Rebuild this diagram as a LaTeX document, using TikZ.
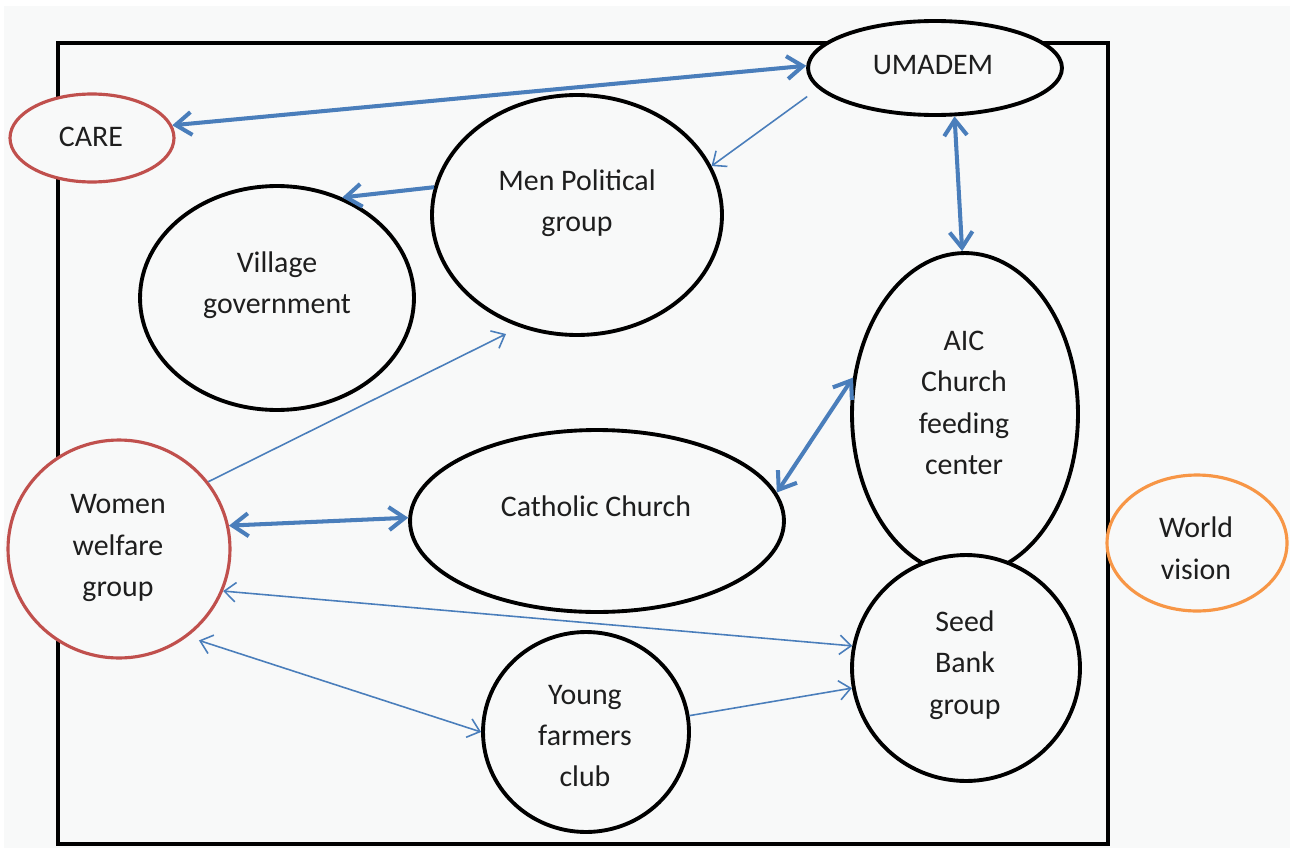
\documentclass[tikz,border=0pt]{standalone}
\usepackage{fontspec}
\setmainfont{Carlito}
\usetikzlibrary{shapes.geometric,arrows.meta,calc}
\definecolor{bg}{RGB}{248,249,249}
\definecolor{arr}{RGB}{74,126,187}
\definecolor{rd}{RGB}{192,80,77}
\definecolor{org}{RGB}{247,150,70}
\definecolor{ink}{RGB}{30,30,30}
\tikzset{
  ell/.style={ellipse, draw=black, line width=2.2pt, fill=bg, inner sep=0pt},
  redell/.style={ell, draw=rd, line width=1.8pt},
  orgell/.style={ell, draw=org, line width=1.8pt},
  txt/.style={font=\fontsize{17}{23.6}\selectfont, text=ink, align=center, inner sep=0pt},
  boldtip/.tip={Straight Barb[length=9pt,width=13pt]},
  thintip/.tip={Straight Barb[length=6.5pt,width=11pt]},
  boldtwo/.style={draw=arr, line width=2.3pt, {boldtip}-{boldtip}},
  boldone/.style={draw=arr, line width=2.3pt, -{boldtip}},
  thintwo/.style={draw=arr, line width=0.9pt, {thintip}-{thintip}},
  thinone/.style={draw=arr, line width=0.9pt, -{thintip}},
}
\begin{document}
\begin{tikzpicture}[x=0.02cm, y=-0.02cm]
\useasboundingbox (0,0) rectangle (1290,848);
\fill[white] (0,0) rectangle (1290,848);
\fill[bg] (4,6) rectangle (1290,848);
% frame
\node[draw=black, line width=1.9pt, minimum width=21cm, minimum height=16.02cm, inner sep=0pt] (frame) at (583,443.5) {};
% ellipses
\node[ell, minimum width=5.08cm, minimum height=1.88cm] (umadem) at (935,68) {};
\node[redell, minimum width=3.28cm, minimum height=1.76cm] (care) at (92,138) {};
\node[ell, minimum width=5.8cm, minimum height=4.8cm] (men) at (577,215) {};
\node[ell, minimum width=5.48cm, minimum height=4.48cm] (village) at (277,298) {};
\node[ell, minimum width=4.52cm, minimum height=6.44cm] (aic) at (965,414) {};
\node[ell, minimum width=7.48cm, minimum height=3.64cm] (catholic) at (597,521) {};
\node[redell, minimum width=4.44cm, minimum height=4.36cm] (women) at (119,549) {};
\node[ell, minimum width=4.56cm, minimum height=4.52cm] (seed) at (966,668) {};
\node[ell, minimum width=4.12cm, minimum height=4.0cm] (young) at (586,732) {};
\node[orgell, minimum width=3.6cm, minimum height=2.72cm] (world) at (1197,543) {};
\coordinate (menbelow) at (506,334);
% texts
\node[txt] (umadem-t) at (933,65) {UMADEM};
\node[txt] (care-t) at (91,137) {CARE};
\node[txt] (men-t) at (577,203) {Men Political\\group};
\node[txt] (village-t) at (277,285) {Village\\government};
\node[txt] (aic-t) at (964,403) {AIC\\Church\\feeding\\center};
\node[txt] (catholic-t) at (596,506) {Catholic Church};
\node[txt] (women-t) at (118,548) {Women\\welfare\\group};
\node[txt] (seed-t) at (965,665) {Seed\\Bank\\group};
\node[txt] (young-t) at (585,736) {Young\\farmers\\club};
\node[txt] (world-t) at (1196,548) {World\\vision};
% connectors
\draw[boldtwo] (care.9) -- (umadem.179);
\draw[thinone, shorten <=0.27cm] (umadem.190.5) -- (men.20);
\draw[boldone] (men.169) -- (village.57);
\draw[boldtwo] (umadem.292) -- (aic.91);
\draw[thinone] (women.37) -- (menbelow);
\draw[boldtwo] (women.12) -- (catholic.179);
\draw[boldtwo] (catholic.9) -- (aic.162);
\draw[thintwo] (women.-22) -- (seed.169);
\draw[thintwo, shorten <=0.24cm] (women.-52) -- (young.180);
\draw[thinone] (young.9) -- (seed.190);
\end{tikzpicture}
\end{document}
